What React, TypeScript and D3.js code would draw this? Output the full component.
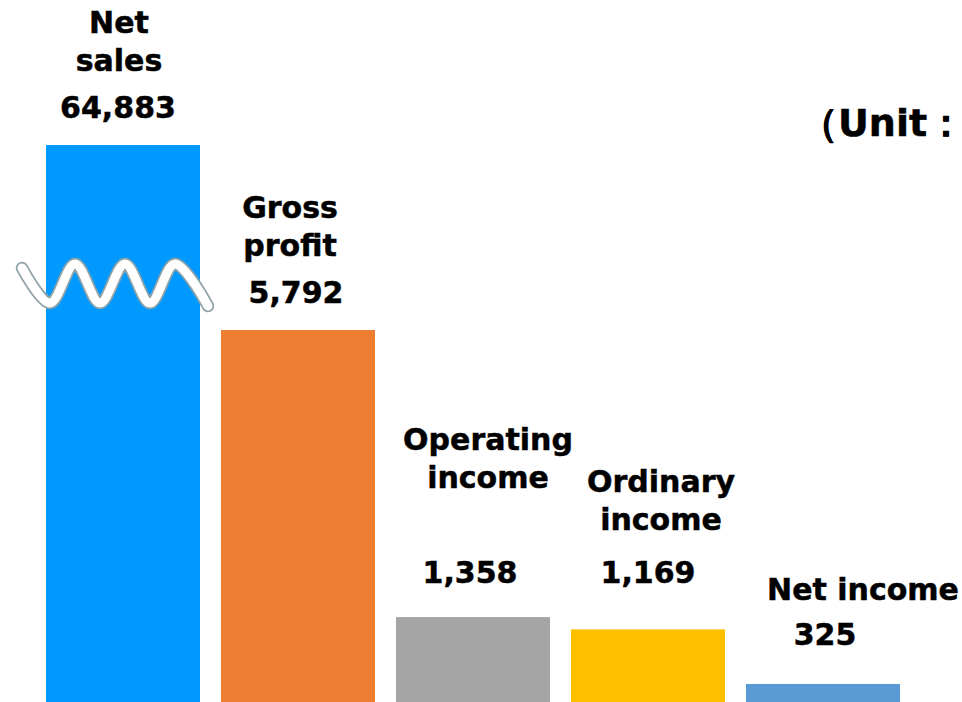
import React from "react";
import * as d3 from "d3";

const categories = ["Net sales", "Gross profit", "Operating income", "Ordinary income", "Net income"];
const values = [64883, 5792, 1358, 1169, 325];
const labelLines = [["Net", "sales"], ["Gross", "profit"], ["Operating", "income"], ["Ordinary", "income"], ["Net income"]];
const valueLabels = ["64,883", "5,792", "1,358", "1,169", "325"];
const colors = ["#0099FF", "#ED7D31", "#A5A5A5", "#FFC000", "#5B9BD5"];
const unitText = "（Unit：Million yen）";

// layout (label placements relative to bar center)
const nameLayout = [
  { dx: -4, y: 33 },
  { dx: -8, y: 218 },
  { dx: 15, y: 450 },
  { dx: 13, y: 492 },
  { dx: 40, y: 600 },
];
const valueLayout = [
  { dx: -5, y: 118 },
  { dx: -2, y: 303 },
  { dx: -3, y: 583 },
  { dx: 0, y: 583 },
  { dx: 2, y: 645 },
];
const wavePts: [number, number][] = [
  [22, 268], [50, 303], [75, 264], [100, 303], [125, 264], [150, 303], [175, 264], [208, 306],
];

export default function App() {
  const W = 962, H = 702;
  const x = d3.scaleBand<string>().domain(categories).range([46, 900]).paddingInner(0.12).paddingOuter(0);
  // broken axis: compressed above the break
  const y = d3.scaleLinear().domain([0, 8000, 64883]).range([705, 187.1, 145]);
  const wave = d3.line().curve(d3.curveCatmullRom.alpha(0.5))(wavePts) || "";
  const font = "'DejaVu Sans', Verdana, sans-serif";
  return (
    <svg width={W} height={H} style={{ position: "absolute", left: 0, top: 0, display: "block", background: "#fff" }}>
      {categories.map((c, i) => (
        <rect key={c} x={x(c)} y={y(values[i])} width={x.bandwidth()} height={y(0) - y(values[i])} fill={colors[i]} />
      ))}
      <path d={wave} fill="none" stroke="#8FA3A8" strokeWidth={12.5} strokeLinecap="round" strokeLinejoin="round" />
      <path d={wave} fill="none" stroke="#ffffff" strokeWidth={9} strokeLinecap="round" strokeLinejoin="round" />
      {categories.map((c, i) => {
        const cx = (x(c) as number) + x.bandwidth() / 2;
        return (
          <g key={"l" + c} fontFamily={font} fontWeight="bold" fontSize={30} fill="#000" stroke="#000" strokeWidth={0.5} textAnchor="middle">
            {labelLines[i].map((ln, j) => (
              <text key={j} x={cx + nameLayout[i].dx} y={nameLayout[i].y + j * 38}>{ln}</text>
            ))}
            <text x={cx + valueLayout[i].dx} y={valueLayout[i].y}>{valueLabels[i]}</text>
          </g>
        );
      })}
      <text x={800} y={136} fontFamily={font} fontWeight="bold" fontSize={38} fill="#000" stroke="#000" strokeWidth={0.5}>{unitText}</text>
    </svg>
  );
}
